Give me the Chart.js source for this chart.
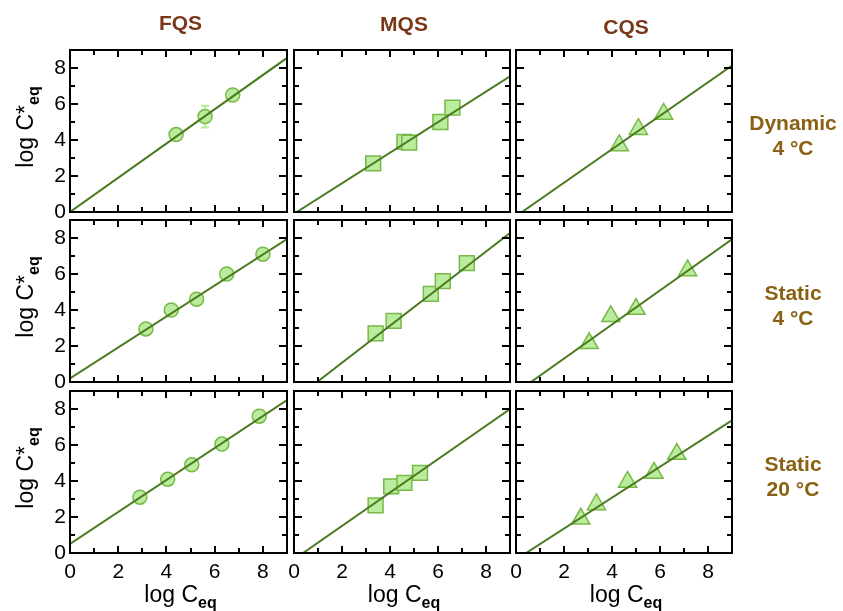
<!DOCTYPE html>
<html>
<head>
<meta charset="utf-8">
<script src="https://cdn.jsdelivr.net/npm/chart.js@4.4.1/dist/chart.umd.min.js"></script>
<style>
    body { margin: 0; background: #fff; }
    #wrap { position: relative; width: 843px; height: 611px; overflow: hidden; font-family: "Liberation Sans", Arial, sans-serif; }
    #wrap canvas { position: absolute; left: 0; top: 0; }
    .lbl { position: absolute; transform: translate(-50%, -50%); white-space: nowrap; line-height: 1; }
    .col { font-weight: bold; font-size: 21px; color: #7a3619; }
    .row { font-weight: bold; font-size: 21px; color: #8a6012; text-align: center; line-height: 25px; }
    .ytitle { font-size: 23px; color: #000; transform: translate(-50%, -50%) rotate(-90deg); }
    .xtitle { font-size: 23px; color: #000; }
    .ytitle sub, .xtitle sub { font-size: 16px; vertical-align: -6px; line-height: 0; font-weight: bold; }
</style>
</head>
<body>
<div id="wrap"></div>
<script>
// titres des colonnes et des lignes
const columnTitles = ['FQS', 'MQS', 'CQS'];
const rowTitles = [['Dynamic', '4 °C'], ['Static', '4 °C'], ['Static', '20 °C']];
const tickLabels = [0, 2, 4, 6, 8];

// log Ceq / log C*eq, panneau par panneau (ligne par ligne)
const fqsDyn4X = [4.4, 5.6, 6.75];
const fqsDyn4Y = [4.3, 5.3, 6.5];
const mqsDyn4X = [3.3, 4.6, 4.8, 6.1, 6.6];
const mqsDyn4Y = [2.7, 3.9, 3.85, 5.0, 5.8];
const cqsDyn4X = [4.3, 5.1, 6.15];
const cqsDyn4Y = [3.7, 4.6, 5.45];

const fqsSt4X = [3.15, 4.2, 5.25, 6.5, 8.0];
const fqsSt4Y = [2.95, 4.0, 4.6, 6.0, 7.1];
const mqsSt4X = [3.4, 4.15, 5.7, 6.2, 7.2];
const mqsSt4Y = [2.7, 3.4, 4.9, 5.6, 6.6];
const cqsSt4X = [3.05, 3.95, 5.0, 7.15];
const cqsSt4Y = [2.15, 3.65, 4.05, 6.2];

const fqsSt20X = [2.9, 4.05, 5.05, 6.3, 7.85];
const fqsSt20Y = [3.1, 4.1, 4.9, 6.05, 7.6];
const mqsSt20X = [3.4, 4.05, 4.6, 5.25];
const mqsSt20Y = [2.65, 3.7, 3.9, 4.45];
const cqsSt20X = [2.7, 3.35, 4.65, 5.75, 6.7];
const cqsSt20Y = [1.9, 2.7, 3.95, 4.45, 5.5];

// barre d'erreur visible sur le point central du premier panneau
const fqsDyn4Err = [0, 0.6, 0];

// droites de régression (pente, ordonnée à l'origine)
const fitSlope = [0.951, 0.848, 0.93, 0.86, 1.03, 0.946, 0.889, 0.927, 0.859];
const fitIntercept = [0.0, -0.1, -0.23, 0.2, -0.99, -0.59, 0.5, -0.35, -0.36];

const panelX = [fqsDyn4X, mqsDyn4X, cqsDyn4X, fqsSt4X, mqsSt4X, cqsSt4X, fqsSt20X, mqsSt20X, cqsSt20X];
const panelY = [fqsDyn4Y, mqsDyn4Y, cqsDyn4Y, fqsSt4Y, mqsSt4Y, cqsSt4Y, fqsSt20Y, mqsSt20Y, cqsSt20Y];
const panelErr = [fqsDyn4Err, null, null, null, null, null, null, null, null];

// mise en page
const W = 843, H = 611;
const colLeft = [70, 294, 516];
const colRight = [287, 510, 732];
const rowTop = [50, 220, 391];
const rowBottom = [212, 382, 553];
const yAxisWidth = 50;   // place des étiquettes de la première colonne
const xAxisHeight = 32;  // place des étiquettes de la dernière ligne
const markerStyle = ['circle', 'rect', 'triangle'];
const markerRadius = [7, 10.5, 10.5];
const lineColor = '#4b7a1e';
const markerFill = '#b9ec9c';
const markerEdge = '#78b848';
const fontFamily = '"Liberation Sans", Arial, sans-serif';

const wrap = document.getElementById('wrap');

// cadre + graduations vers l'intérieur
const framePlugin = {
    id: 'frame',
    beforeDatasetsDraw(chart) {
        const err = chart.options.plugins.frame.err;
        if (!err) return;
        const ctx = chart.ctx;
        const x = chart.scales.x, y = chart.scales.y;
        const ds = chart.data.datasets[1].data;
        ctx.save();
        ctx.strokeStyle = '#b6ee96';
        ctx.lineWidth = 2;
        ctx.beginPath();
        ds.forEach((p, k) => {
            if (!err[k]) return;
            const px = x.getPixelForValue(p.x);
            const y1 = y.getPixelForValue(p.y + err[k]);
            const y2 = y.getPixelForValue(p.y - err[k]);
            ctx.moveTo(px, y1); ctx.lineTo(px, y2);
            ctx.moveTo(px - 4, y1); ctx.lineTo(px + 4, y1);
            ctx.moveTo(px - 4, y2); ctx.lineTo(px + 4, y2);
        });
        ctx.stroke();
        ctx.restore();
    },
    afterDraw(chart) {
        const ctx = chart.ctx;
        const a = chart.chartArea;
        const x = chart.scales.x, y = chart.scales.y;
        ctx.save();
        ctx.strokeStyle = '#000';
        ctx.lineWidth = 2;
        ctx.strokeRect(a.left, a.top, a.right - a.left, a.bottom - a.top);
        ctx.beginPath();
        x.ticks.forEach(t => {
            if (t.value <= x.min || t.value >= x.max) return;
            const px = Math.round(x.getPixelForValue(t.value));
            const len = t.value % 2 === 0 ? 7 : 5;
            ctx.moveTo(px, a.top); ctx.lineTo(px, a.top + len);
            ctx.moveTo(px, a.bottom); ctx.lineTo(px, a.bottom - len);
        });
        y.ticks.forEach(t => {
            if (t.value <= y.min || t.value >= y.max) return;
            const py = Math.round(y.getPixelForValue(t.value));
            const len = t.value % 2 === 0 ? 8 : 5;
            ctx.moveTo(a.left, py); ctx.lineTo(a.left + len, py);
            ctx.moveTo(a.right, py); ctx.lineTo(a.right - len, py);
        });
        ctx.stroke();
        ctx.restore();
    }
};

function makePanel(r, c) {
    const i = r * 3 + c;
    const canvas = document.createElement('canvas');
    canvas.width = W;
    canvas.height = H;
    wrap.appendChild(canvas);

    const pts = panelX[i].map((v, k) => ({ x: v, y: panelY[i][k] }));
    const m = fitSlope[i], b = fitIntercept[i];
    const x0 = b < 0 ? -b / m : 0;
    const fit = [{ x: x0, y: m * x0 + b }, { x: 9, y: m * 9 + b }];

    const showY = c === 0, showX = r === 2;
    const yw = showY ? yAxisWidth : 0;
    const xh = showX ? xAxisHeight : 0;
    const tickFont = { family: fontFamily, size: 21 };

    new Chart(canvas, {
        type: 'scatter',
        data: {
            datasets: [
                {
                    type: 'line',
                    data: fit,
                    borderColor: lineColor,
                    borderWidth: 2,
                    pointRadius: 0,
                    fill: false,
                    clip: 0
                },
                {
                    data: pts,
                    pointStyle: markerStyle[c],
                    pointRadius: markerRadius[c],
                    backgroundColor: markerFill,
                    borderColor: markerEdge,
                    borderWidth: 1.5
                }
            ]
        },
        options: {
            responsive: false,
            animation: false,
            devicePixelRatio: 1,
            layout: {
                padding: {
                    left: colLeft[c] - yw,
                    top: rowTop[r],
                    right: W - colRight[c],
                    bottom: H - rowBottom[r] - xh
                }
            },
            plugins: {
                legend: { display: false },
                tooltip: { enabled: false },
                frame: { err: panelErr[i] }
            },
            scales: {
                x: {
                    type: 'linear',
                    min: 0,
                    max: 9,
                    grid: { display: false, drawTicks: false },
                    border: { display: false },
                    ticks: {
                        display: showX,
                        stepSize: 1,
                        autoSkip: false,
                        maxRotation: 0,
                        padding: 7,
                        color: '#000',
                        font: tickFont,
                        callback: v => tickLabels.includes(v) ? String(v) : ''
                    },
                    afterFit: s => { s.height = xh; }
                },
                y: {
                    type: 'linear',
                    min: 0,
                    max: 9,
                    grid: { display: false, drawTicks: false },
                    border: { display: false },
                    ticks: {
                        display: showY,
                        stepSize: 1,
                        autoSkip: false,
                        padding: 4,
                        color: '#000',
                        font: tickFont,
                        callback: v => tickLabels.includes(v) ? String(v) : ''
                    },
                    afterFit: s => { s.width = yw; }
                }
            }
        },
        plugins: [framePlugin]
    });
}

function addLabel(cls, html, x, y) {
    const d = document.createElement('div');
    d.className = 'lbl ' + cls;
    d.innerHTML = html;
    d.style.left = x + 'px';
    d.style.top = y + 'px';
    wrap.appendChild(d);
}

for (let r = 0; r < 3; r++) {
    for (let c = 0; c < 3; c++) makePanel(r, c);
}

// titres des colonnes
const colTitleY = [22, 23, 26];
columnTitles.forEach((t, c) => addLabel('col', t, (colLeft[c] + colRight[c]) / 2 + 2, colTitleY[c]));

// titres des lignes
rowTitles.forEach((t, r) => addLabel('row', t.join('<br>'), 793, (rowTop[r] + rowBottom[r]) / 2 + 4));

// titres des axes
rowTitles.forEach((t, r) => addLabel('ytitle', 'log C*<sub>eq</sub>', 25, (rowTop[r] + rowBottom[r]) / 2 - 4));
columnTitles.forEach((t, c) => addLabel('xtitle', 'log C<sub>eq</sub>', (colLeft[c] + colRight[c]) / 2 + 2, 594));
</script>
</body>
</html>
